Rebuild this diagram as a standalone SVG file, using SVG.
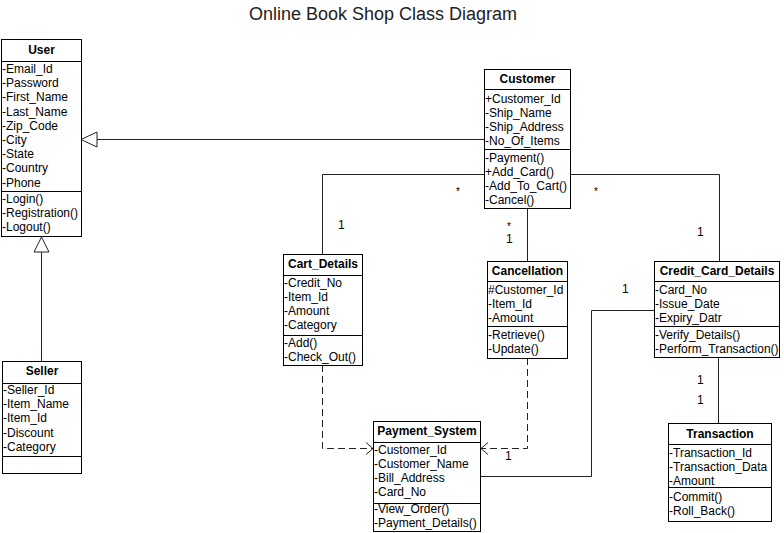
<svg xmlns="http://www.w3.org/2000/svg" width="784" height="533" viewBox="0 0 784 533">
<style>
text{font-family:"Liberation Sans",Arial,sans-serif;font-size:12px;fill:#000}
.t{font-size:18px;fill:#222}
.h{font-weight:bold;text-anchor:middle}
.box{fill:#fff;stroke:#000;stroke-width:1}
.sep{stroke:#000;stroke-width:1}
.c{fill:none;stroke:#222;stroke-width:1}
.d{fill:none;stroke:#222;stroke-width:1;stroke-dasharray:7 4}
.s{font-size:10px}
</style>
<defs>
<marker id="open" markerWidth="10" markerHeight="14" refX="8" refY="7" orient="auto" markerUnits="userSpaceOnUse">
<path d="M1,1 L8,7 L1,13" fill="none" stroke="#222" stroke-width="1"/>
</marker>
</defs>
<rect width="784" height="533" fill="#fff"/>
<text class="t" x="383" y="20" text-anchor="middle">Online Book Shop Class Diagram</text>

<g id="connectors">
<line class="c" x1="484" y1="139.5" x2="97" y2="139.5"/>
<polygon points="81,139.5 97,132 97,147" fill="#fff" stroke="#222"/>
<line class="c" x1="41.5" y1="361" x2="41.5" y2="252"/>
<polygon points="41.5,237 34,252 49,252" fill="#fff" stroke="#222"/>
<polyline class="c" points="484,174.5 322.5,174.5 322.5,254.5"/>
<polyline class="c" points="527.5,209 527.5,261"/>
<polyline class="c" points="571,174.5 719.5,174.5 719.5,261"/>
<polyline class="c" points="718.5,358 718.5,423"/>
<polyline class="c" points="654,310.5 591.5,310.5 591.5,476.5 481,476.5"/>
<polyline class="d" points="322.5,365 322.5,448.5 373,448.5" marker-end="url(#open)"/>
<polyline class="d" points="527.5,358 527.5,448.5 481,448.5" marker-end="url(#open)"/>
<text class="s" x="456" y="195">*</text>
<text class="s" x="594" y="195">*</text>
<text class="s" x="507" y="230">*</text>
<text x="338" y="229">1</text>
<text x="506" y="243">1</text>
<text x="697" y="236">1</text>
<text x="622" y="293">1</text>
<text x="697" y="384">1</text>
<text x="697" y="404">1</text>
<text x="505" y="460">1</text>
</g>

<g id="user">
<rect class="box" x="1.5" y="39.5" width="80" height="197"/>
<line class="sep" x1="1.5" y1="61.5" x2="81.5" y2="61.5"/>
<line class="sep" x1="1.5" y1="191.5" x2="81.5" y2="191.5"/>
<text class="h" x="41.5" y="54">User</text>
<text x="2" y="73">-Email_Id</text>
<text x="2" y="87.2">-Password</text>
<text x="2" y="101.4">-First_Name</text>
<text x="2" y="115.6">-Last_Name</text>
<text x="2" y="129.8">-Zip_Code</text>
<text x="2" y="144">-City</text>
<text x="2" y="158.2">-State</text>
<text x="2" y="172.4">-Country</text>
<text x="2" y="186.6">-Phone</text>
<text x="2" y="203">-Login()</text>
<text x="2" y="217.2">-Registration()</text>
<text x="2" y="231.4">-Logout()</text>
</g>

<g id="seller">
<rect class="box" x="2.5" y="361.5" width="79" height="112"/>
<line class="sep" x1="2.5" y1="383.5" x2="81.5" y2="383.5"/>
<line class="sep" x1="2.5" y1="456.5" x2="81.5" y2="456.5"/>
<text class="h" x="42" y="375">Seller</text>
<text x="3" y="394">-Seller_Id</text>
<text x="3" y="408.2">-Item_Name</text>
<text x="3" y="422.4">-Item_Id</text>
<text x="3" y="436.6">-Discount</text>
<text x="3" y="450.8">-Category</text>
</g>

<g id="customer">
<rect class="box" x="484.5" y="69.5" width="86" height="139"/>
<line class="sep" x1="484.5" y1="89.5" x2="570.5" y2="89.5"/>
<line class="sep" x1="484.5" y1="149.5" x2="570.5" y2="149.5"/>
<text class="h" x="527.5" y="82.5">Customer</text>
<text x="485" y="102.5">+Customer_Id</text>
<text x="485" y="116.7">-Ship_Name</text>
<text x="485" y="130.9">-Ship_Address</text>
<text x="485" y="145.1">-No_Of_Items</text>
<text x="485" y="161.8">-Payment()</text>
<text x="485" y="176">+Add_Card()</text>
<text x="485" y="190.2">-Add_To_Cart()</text>
<text x="485" y="204.4">-Cancel()</text>
</g>

<g id="cart_details">
<rect class="box" x="283.5" y="254.5" width="79" height="111"/>
<line class="sep" x1="283.5" y1="275.5" x2="362.5" y2="275.5"/>
<line class="sep" x1="283.5" y1="335.5" x2="362.5" y2="335.5"/>
<text class="h" x="323" y="268">Cart_Details</text>
<text x="284" y="286.5">-Credit_No</text>
<text x="284" y="300.7">-Item_Id</text>
<text x="284" y="314.9">-Amount</text>
<text x="284" y="329.1">-Category</text>
<text x="284" y="346.5">-Add()</text>
<text x="284" y="360.7">-Check_Out()</text>
</g>

<g id="cancellation">
<rect class="box" x="487.5" y="261.5" width="80" height="97"/>
<line class="sep" x1="487.5" y1="281.5" x2="567.5" y2="281.5"/>
<line class="sep" x1="487.5" y1="326.5" x2="567.5" y2="326.5"/>
<text class="h" x="527.5" y="275">Cancellation</text>
<text x="488" y="293.5">#Customer_Id</text>
<text x="488" y="307.7">-Item_Id</text>
<text x="488" y="321.9">-Amount</text>
<text x="488" y="339">-Retrieve()</text>
<text x="488" y="353.2">-Update()</text>
</g>

<g id="credit_card_details">
<rect class="box" x="654.5" y="261.5" width="125" height="96"/>
<line class="sep" x1="654.5" y1="281.5" x2="779.5" y2="281.5"/>
<line class="sep" x1="654.5" y1="326.5" x2="779.5" y2="326.5"/>
<text class="h" x="717" y="275">Credit_Card_Details</text>
<text x="655" y="293.5">-Card_No</text>
<text x="655" y="307.7">-Issue_Date</text>
<text x="655" y="321.9">-Expiry_Datr</text>
<text x="655" y="339">-Verify_Details()</text>
<text x="655" y="353.2">-Perform_Transaction()</text>
</g>

<g id="transaction">
<rect class="box" x="668.5" y="423.5" width="103" height="98"/>
<line class="sep" x1="668.5" y1="444.5" x2="771.5" y2="444.5"/>
<line class="sep" x1="668.5" y1="487.5" x2="771.5" y2="487.5"/>
<text class="h" x="720" y="437.5">Transaction</text>
<text x="669" y="456.5">-Transaction_Id</text>
<text x="669" y="470.7">-Transaction_Data</text>
<text x="669" y="484.9">-Amount</text>
<text x="669" y="501">-Commit()</text>
<text x="669" y="515.2">-Roll_Back()</text>
</g>

<g id="payment_system">
<rect class="box" x="373.5" y="421.5" width="107" height="110"/>
<line class="sep" x1="373.5" y1="442.5" x2="480.5" y2="442.5"/>
<line class="sep" x1="373.5" y1="503.5" x2="480.5" y2="503.5"/>
<text class="h" x="427" y="435">Payment_System</text>
<text x="374" y="453.5">-Customer_Id</text>
<text x="374" y="467.7">-Customer_Name</text>
<text x="374" y="481.9">-Bill_Address</text>
<text x="374" y="496.1">-Card_No</text>
<text x="374" y="512.5">-View_Order()</text>
<text x="374" y="526.7">-Payment_Details()</text>
</g>
</svg>
